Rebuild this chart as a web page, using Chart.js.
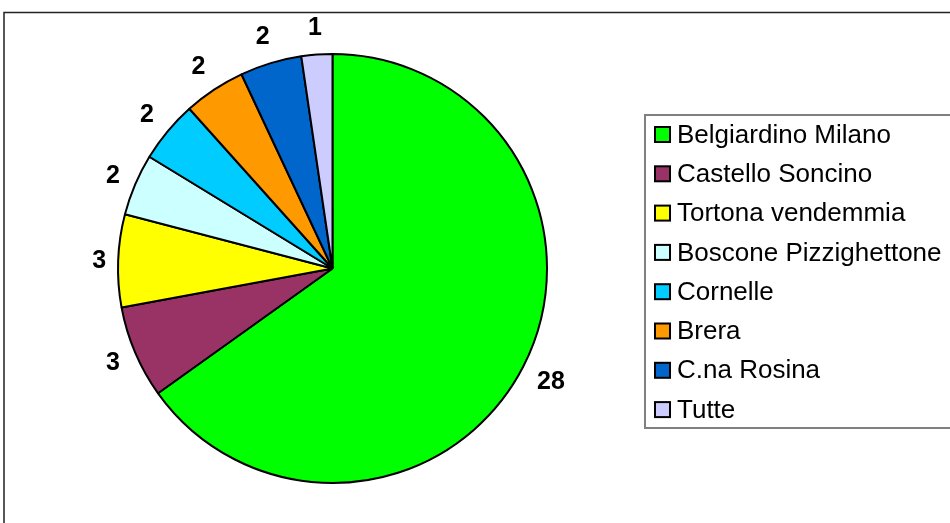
<!DOCTYPE html>
<html>
<head>
<meta charset="utf-8">
<script src="https://cdn.jsdelivr.net/npm/chart.js@4/dist/chart.umd.min.js"></script>
<style>
html,body{margin:0;padding:0;background:#fff;overflow:hidden;}
canvas{display:block;}
</style>
</head>
<body>
<canvas id="c" width="950" height="523"></canvas>
<script>
const categories = ["Belgiardino Milano","Castello Soncino","Tortona vendemmia","Boscone Pizzighettone","Cornelle","Brera","C.na Rosina","Tutte"];
const values = [28,3,3,2,2,2,2,1];
const colors = ["#00FF00","#993366","#FFFF00","#CCFFFF","#00CCFF","#FF9900","#0066CC","#CCCCFF"];

const framePlugin = {
  id: 'frame',
  beforeDraw(chart) {
    const ctx = chart.ctx;
    ctx.save();
    ctx.fillStyle = '#fff';
    ctx.fillRect(0, 0, chart.width, chart.height);
    ctx.strokeStyle = '#222';
    ctx.lineWidth = 1.5;
    ctx.strokeRect(4, 12.5, 1000, 1000);
    ctx.restore();
  }
};

const labelPlugin = {
  id: 'outLabels',
  afterDatasetsDraw(chart) {
    const ctx = chart.ctx;
    const meta = chart.getDatasetMeta(0);
    ctx.save();
    ctx.font = 'bold 25px "Liberation Sans", Arial, sans-serif';
    ctx.fillStyle = '#000';
    ctx.textAlign = 'center';
    ctx.textBaseline = 'middle';
    meta.data.forEach((arc, i) => {
      const p = arc.getProps(['x','y','startAngle','endAngle','outerRadius'], true);
      const mid = (p.startAngle + p.endAngle) / 2;
      const txt = String(chart.data.datasets[0].data[i]);
      const tw = ctx.measureText(txt).width;
      const c = Math.cos(mid), s = Math.sin(mid);
      const ext = (tw / 2 + 1) * Math.abs(c) + 16 * Math.abs(s);
      const d = p.outerRadius + 10.5 + ext;
      ctx.fillText(txt, p.x + c * d, p.y + s * d + 1);
    });
    ctx.restore();
  }
};

const legendPlugin = {
  id: 'boxLegend',
  afterDraw(chart) {
    const ctx = chart.ctx;
    ctx.save();
    ctx.strokeStyle = '#808080';
    ctx.lineWidth = 2;
    ctx.strokeRect(645, 115, 400, 313);
    ctx.font = '26px "Liberation Sans", Arial, sans-serif';
    ctx.textBaseline = 'middle';
    ctx.textAlign = 'left';
    const labels = chart.data.labels;
    const bg = chart.data.datasets[0].backgroundColor;
    labels.forEach((lab, i) => {
      const y = 134.5 + i * 39.3;
      ctx.fillStyle = bg[i];
      ctx.fillRect(655, y - 7.5, 15, 15);
      ctx.strokeStyle = '#000';
      ctx.lineWidth = 2;
      ctx.strokeRect(655, y - 7.5, 15, 15);
      ctx.fillStyle = '#000';
      ctx.fillText(lab, 677, y + 1);
    });
    ctx.restore();
  }
};

new Chart(document.getElementById('c'), {
  type: 'pie',
  data: {
    labels: categories,
    datasets: [{
      data: values,
      backgroundColor: colors,
      borderColor: '#000',
      borderWidth: 2
    }]
  },
  options: {
    responsive: false,
    devicePixelRatio: 1,
    animation: false,
    radius: 214.5,
    layout: { padding: { left: 0, right: 285, top: 14, bottom: 0 } },
    plugins: {
      legend: { display: false },
      tooltip: { enabled: false },
      title: { display: false }
    }
  },
  plugins: [framePlugin, labelPlugin, legendPlugin]
});
</script>
</body>
</html>
